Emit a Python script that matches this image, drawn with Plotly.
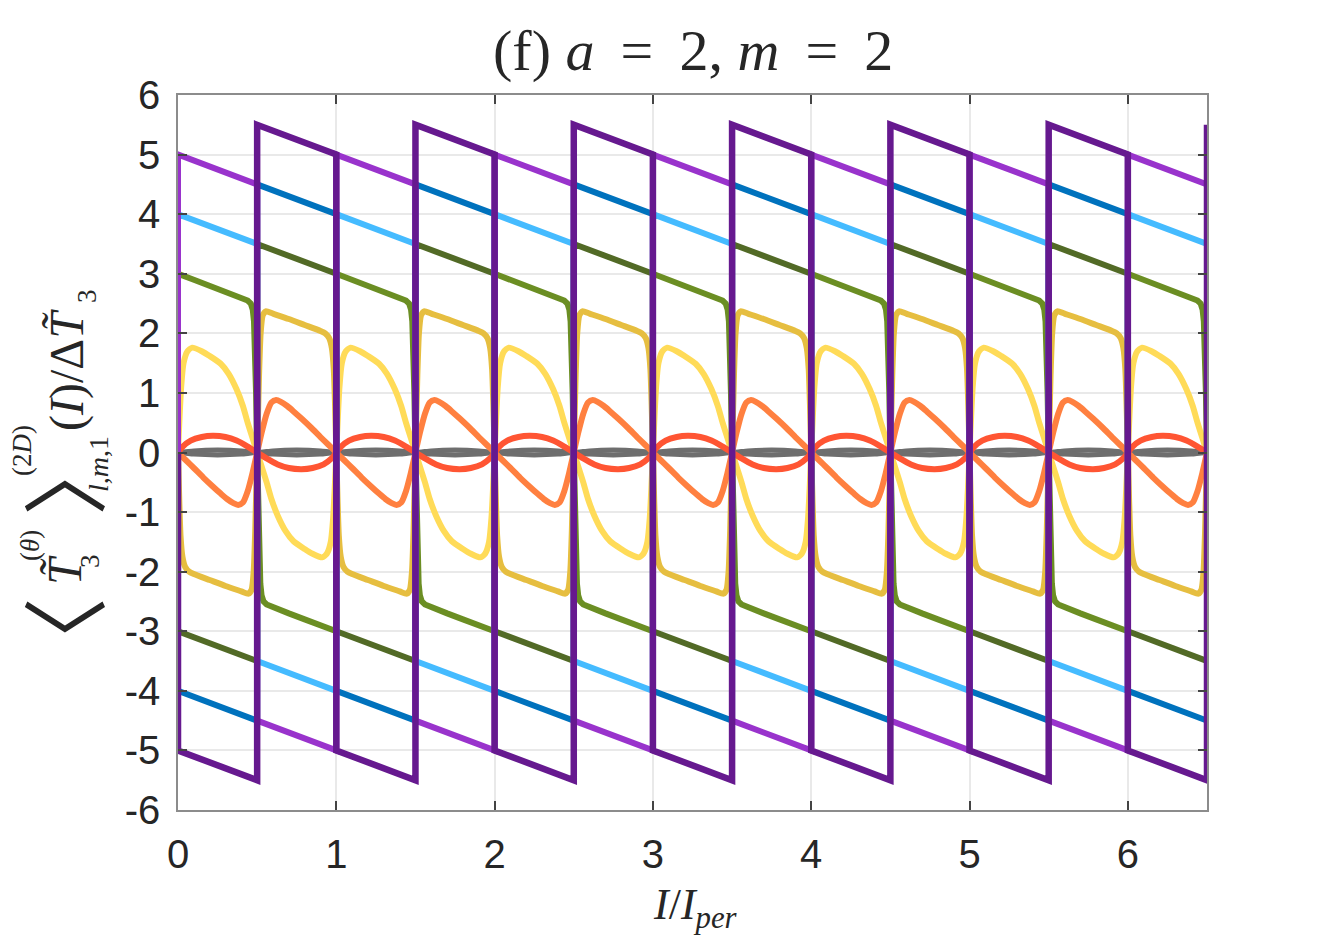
import plotly.graph_objects as go

# ---------------- data (one period, offsets in I/I_per) ----------------
X_MAX = 6.5
N_PERIODS = 7

# straight "sawtooth" branches
lp_dx = [0.0, 0.5, 0.5, 1.0]
lp_y = [5.0, 4.5, -4.5, -5.0]          # light purple

dp_dx = [0.0, 0.5, 0.5, 1.0]
dp_y = [-5.0, -5.5, 5.5, 5.0]          # dark purple

db_dx = [0.0, 0.5, 0.5, 1.0]
db_y = [-4.0, -4.5, 4.5, 4.0]          # dark blue

lb_dx = [0.0, 0.5, 0.5, 1.0]
lb_y = [4.0, 3.5, -3.5, -4.0]          # light blue

dg_dx = [0.0, 0.5, 0.5, 1.0]
dg_y = [-3.0, -3.5, 3.5, 3.0]          # dark olive

# bent branches
gr_dx = [0.0, 0.1, 0.2, 0.3, 0.4, 0.44, 0.46, 0.472, 0.48, 0.487, 0.493, 0.5,
         0.507, 0.513, 0.52, 0.528, 0.54, 0.56, 0.6, 0.7, 0.8, 0.9, 1.0]
gr_y = [3.0, 2.9, 2.8, 2.7, 2.6, 2.55, 2.5, 2.4, 2.2, 1.7, 1.0, 0.0,
        -1.0, -1.7, -2.2, -2.4, -2.5, -2.55, -2.6, -2.7, -2.8, -2.9, -3.0]   # olive green

go_dx = [0.0, 0.008, 0.016, 0.028, 0.045, 0.07, 0.1, 0.2, 0.3, 0.4, 0.445, 0.465, 0.478, 0.488, 0.5,
         0.512, 0.522, 0.535, 0.555, 0.6, 0.7, 0.8, 0.9, 0.93, 0.955, 0.972, 0.984, 0.992, 1.0]
go_y = [0.0, -0.8, -1.4, -1.75, -1.92, -2.0, -2.04, -2.14, -2.24, -2.33, -2.37, -2.3, -2.0, -1.3, 0.0,
        1.3, 2.0, 2.3, 2.37, 2.33, 2.24, 2.14, 2.04, 2.0, 1.92, 1.75, 1.4, 0.8, 0.0]   # gold

ye_dx = [0.0, 0.01, 0.02, 0.035, 0.06, 0.09, 0.15, 0.2, 0.27, 0.32, 0.37, 0.41, 0.44, 0.47, 0.5,
         0.53, 0.56, 0.59, 0.63, 0.68, 0.73, 0.8, 0.85, 0.91, 0.94, 0.965, 0.98, 0.99, 1.0]
ye_y = [0.0, 0.6, 1.1, 1.5, 1.7, 1.76, 1.7, 1.62, 1.49, 1.32, 1.06, 0.78, 0.5, 0.25, 0.0,
        -0.25, -0.5, -0.78, -1.06, -1.32, -1.49, -1.62, -1.7, -1.76, -1.7, -1.5, -1.1, -0.6, 0.0]  # yellow

or_dx = [0.0, 0.05, 0.1, 0.16, 0.22, 0.27, 0.31, 0.35, 0.38, 0.41, 0.44, 0.47, 0.5,
         0.53, 0.56, 0.59, 0.62, 0.65, 0.69, 0.73, 0.78, 0.84, 0.9, 0.95, 1.0]
or_y = [0.0, -0.13, -0.26, -0.42, -0.57, -0.69, -0.78, -0.85, -0.88, -0.84, -0.65, -0.35, 0.0,
        0.35, 0.65, 0.84, 0.88, 0.85, 0.78, 0.69, 0.57, 0.42, 0.26, 0.13, 0.0]   # orange

rd_dx = [0.0, 0.03, 0.08, 0.15, 0.22, 0.3, 0.37, 0.44, 0.5,
         0.56, 0.63, 0.7, 0.78, 0.85, 0.92, 0.97, 1.0]
rd_y = [0.0, 0.1, 0.2, 0.26, 0.28, 0.26, 0.2, 0.1, 0.0,
        -0.1, -0.2, -0.26, -0.28, -0.26, -0.2, -0.1, 0.0]   # red

gy_dx = [0.0, 0.1, 0.25, 0.4, 0.5, 0.6, 0.75, 0.9, 1.0]
gy_up = [0.0, 0.027, 0.04, 0.027, 0.0, 0.027, 0.04, 0.027, 0.0]
gy_lo = [0.0, -0.027, -0.04, -0.027, 0.0, -0.027, -0.04, -0.027, 0.0]

x_ticks = [0, 1, 2, 3, 4, 5, 6]
y_ticks = [-6, -5, -4, -3, -2, -1, 0, 1, 2, 3, 4, 5, 6]
y_tick_text = [str(v) for v in y_ticks]

# ---------------- build ----------------
def tile(dx, dy):
    xs, ys = [0.0], [0.0]
    for p in range(N_PERIODS):
        for d, v in zip(dx, dy):
            x = p + d
            if x <= X_MAX + 1e-9:
                xs.append(x)
                ys.append(v)
    return xs, ys

series = [
    (gy_dx, gy_up, "#6E6E6E", 5, "spline"),
    (gy_dx, gy_lo, "#6E6E6E", 5, "spline"),
    (ye_dx, ye_y, "#FFDB58", 6, "spline"),
    (go_dx, go_y, "#E6BE40", 6, "spline"),
    (gr_dx, gr_y, "#6B8E23", 6, "linear"),
    (or_dx, or_y, "#FF8040", 6, "spline"),
    (rd_dx, rd_y, "#FF5533", 6, "spline"),
    (dg_dx, dg_y, "#526A26", 6, "linear"),
    (lb_dx, lb_y, "#45BBFF", 6, "linear"),
    (db_dx, db_y, "#0072BD", 6, "linear"),
    (lp_dx, lp_y, "#9933CC", 6, "linear"),
    (dp_dx, dp_y, "#66198F", 6.5, "linear"),
]

fig = go.Figure()
for dx, dy, col, w, shp in series:
    xs, ys = tile(dx, dy)
    ln = dict(color=col, width=w, shape=shp)
    if shp == "spline":
        ln["smoothing"] = 0.6
    fig.add_trace(go.Scatter(x=xs, y=ys, mode="lines", line=ln,
                             showlegend=False, hoverinfo="skip"))

axis_common = dict(showline=True, linecolor="#8c8c8c", linewidth=1.5, mirror="ticks",
                   ticks="inside", ticklen=9, tickwidth=1.5, tickcolor="#444",
                   showgrid=True, gridcolor="#e9e9e9", gridwidth=1.5, zeroline=False,
                   automargin=False,
                   tickfont=dict(family="Liberation Sans, Arial", size=40, color="#262626"))

fig.update_xaxes(range=[0, X_MAX], tickvals=x_ticks, ticktext=[str(v) for v in x_ticks],
                 ticklabelstandoff=8, **axis_common)
fig.update_yaxes(range=[-6, 6], tickvals=y_ticks, ticktext=y_tick_text,
                 ticklabelstandoff=8, **axis_common)

serif = "Liberation Serif, Times New Roman, serif"
cjk = "Noto Sans CJK SC"
INK = "#262626"

# screen pixel -> paper coordinates (plot area 178..1207 x 95..810 on screen)
def px(sx):
    return (sx - 178) / 1029.0

def py(sy):
    return (810 - sy) / 715.0

def lab(text, sx, sy, size, family=serif, angle=-90):
    return dict(text=text, xref="paper", yref="paper", x=px(sx), y=py(sy),
                xanchor="center", yanchor="middle", showarrow=False, textangle=angle,
                font=dict(family=family, size=size, color=INK))

TH = "\u2009"
title_txt = "(f) <i>a</i> " + TH + "= " + TH + "2, <i>m</i> " + TH + "= " + TH + "2"

annotations = [
    # title
    lab(title_txt, 693, 50, 58, angle=0),
    # x axis label
    lab("<i>I</i>/<i>I</i><sub><i>per</i></sub>", 695, 907, 44, angle=0),
    # y axis label, assembled piece by piece (rotated)
    lab("\u3008", 60, 640, 86, family=cjk),
    lab("<i>T\u0303</i>", 64, 570, 48),
    lab("3", 90, 561, 27),
    lab("(<i>\u03b8</i>)", 30, 546, 27),
    lab("\u3009", 60, 473, 86, family=cjk),
    lab("(2<i>D</i>)", 22, 451, 27),
    lab("<i>l,m</i>,1", 98, 464, 28),
    lab("(<i>I</i>)/\u0394<i>T\u0303</i>", 67, 370, 48),
    lab("3", 87, 296, 27),
]

fig.update_layout(
    width=1327, height=929,
    margin=dict(l=170, r=128, t=87, b=127),
    plot_bgcolor="white", paper_bgcolor="white",
    annotations=annotations,
)

fig.write_html("out.html")
